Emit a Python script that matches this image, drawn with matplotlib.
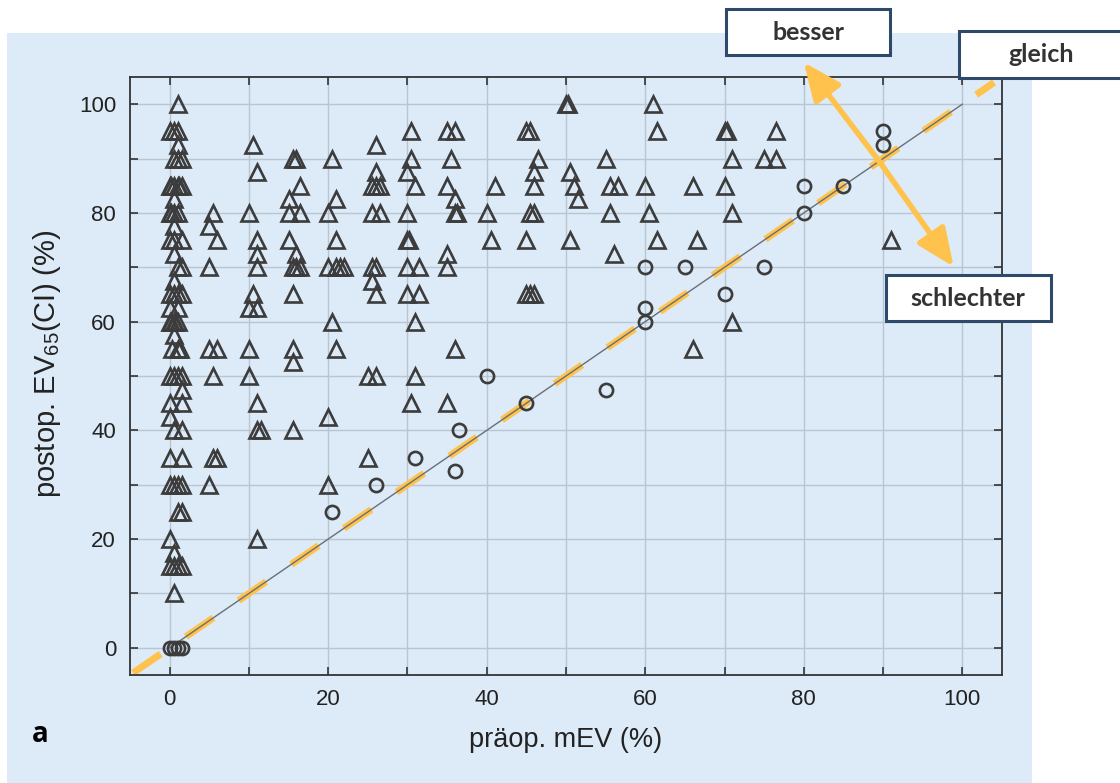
import matplotlib
matplotlib.use("Agg")
import matplotlib.pyplot as plt
from matplotlib.patches import Rectangle

plt.rcParams['font.family'] = ['Liberation Sans', 'DejaVu Sans']
plt.rcParams['mathtext.default'] = 'regular'
plt.rcParams['lines.scale_dashes'] = False

# ---------------- data ----------------
tri_x = [1, 0, 0.5, 1, 1, 0.5, 1, 1.5, 0, 0.5, 1, 1.5, 0.2, 1.2, 0.5, 0, 0.5, 1, 0.2,
         0.5, 0, 1.5, 0.5, 0.5, 1, 1.5, 0.5, 0, 0.5, 1, 1.5, 0, 1, 0, 0.5, 1, 0.2, 0.7,
         0.5, 0.3, 1, 1.3, 0, 0.5, 1, 1.5, 1.5, 0, 1.5, 0, 0.5, 1.5, 0, 1.5, 0, 0.5, 1, 1.5,
         1, 1.5, 0, 0.5, 0, 0.5, 1, 1.5, 0.5,
         5.5, 5, 6, 5, 5, 6, 5.5, 5.5, 6, 5,
         10.5, 11, 10, 11, 11, 11, 10.5, 10, 11, 10, 10, 11, 11, 11.5, 11,
         15.5, 16, 16.5, 15, 15, 16.5, 15, 16, 15.5, 16, 16.5, 15.5, 15.5, 15.5, 15.5,
         20.5, 21, 20, 21, 20, 21, 21.5, 22, 20.5, 21, 20, 20,
         26, 26, 25.5, 26, 26.5, 25.5, 26.5, 25.5, 26, 25.5, 26, 25, 26, 25,
         30.5, 30.5, 30, 31, 30, 30, 30.2, 30, 31.5, 30, 31.5, 31, 31, 30.5,
         35, 36, 35.5, 35, 36, 36, 36.2, 35, 35, 36, 35,
         40, 41, 40.5,
         45, 45.5, 46.5, 46, 46, 45.5, 46, 45, 45, 45.5, 46,
         50, 50.2, 50.5, 51, 51.5, 50.5,
         55, 55.5, 56.5, 55.5, 56,
         61, 61.5, 60, 60.5, 61.5,
         66, 66.5, 66,
         70, 70.3, 71, 70, 71, 71,
         76.5, 75, 76.5,
         91]
tri_y = [100, 95, 95, 95, 92.5, 90, 90, 90, 85, 85, 85, 85, 85, 85, 82.5, 80, 80, 80, 80,
         77.5, 75, 75, 75, 72.5, 70, 70, 67.5, 65, 65, 65, 65, 62.5, 62.5, 60, 60, 60, 60, 60,
         57.5, 55, 55, 55, 50, 50, 50, 50, 47.5, 45, 45, 42.5, 40, 40, 35, 35, 30, 30, 30, 30,
         25, 25, 20, 17.5, 15, 15, 15, 15, 10,
         80, 77.5, 75, 70, 55, 55, 50, 35, 35, 30,
         92.5, 87.5, 80, 75, 72.5, 70, 65, 62.5, 62.5, 55, 50, 45, 40, 40, 20,
         90, 90, 85, 82.5, 80, 80, 75, 72.5, 70, 70, 70, 65, 55, 52.5, 40,
         90, 82.5, 80, 75, 70, 70, 70, 70, 60, 55, 42.5, 30,
         92.5, 87.5, 85, 85, 85, 80, 80, 70, 70, 67.5, 65, 50, 50, 35,
         95, 90, 87.5, 85, 80, 75, 75, 70, 70, 65, 65, 60, 50, 45,
         95, 95, 90, 85, 82.5, 80, 80, 72.5, 70, 55, 45,
         80, 85, 75,
         95, 95, 90, 87.5, 85, 80, 80, 75, 65, 65, 65,
         100, 100, 87.5, 85, 82.5, 75,
         90, 85, 85, 80, 72.5,
         100, 95, 85, 80, 75,
         85, 75, 55,
         95, 95, 90, 85, 80, 60,
         95, 90, 90,
         75]
circ_x = [0, 0.5, 1, 1.5, 20.5, 26, 31, 36, 36.5, 40, 45, 55, 60, 60, 60, 65, 70, 75,
          80, 80, 85, 90, 90]
circ_y = [0, 0, 0, 0, 25, 30, 35, 32.5, 40, 50, 45, 47.5, 60, 62.5, 70, 70, 65, 70,
          80, 85, 85, 92.5, 95]

ident = [0, 100]
ident_ext = [-4.6, 104]

x_ticks = [0, 10, 20, 30, 40, 50, 60, 70, 80, 90, 100]
x_labels = ['0', '', '20', '', '40', '', '60', '', '80', '', '100']
y_ticks = x_ticks
y_labels = x_labels

W, H = 1120, 783
fig = plt.figure(figsize=(W / 100, H / 100), dpi=100)
fig.patch.set_facecolor('white')

bg = '#ddeaf7'
fig.add_artist(Rectangle((7 / W, 0), (1032 - 7) / W, (H - 33) / H,
                         transform=fig.transFigure, facecolor=bg, edgecolor='none', zorder=0))

ax = fig.add_axes([130 / W, 1 - 675 / H, (1002 - 130) / W, (675 - 77) / H])
ax.set_facecolor(bg)
ax.set_xlim(-5, 105)
ax.set_ylim(-5, 105)
ax.set_xticks(x_ticks)
ax.set_xticklabels(x_labels)
ax.set_yticks(y_ticks)
ax.set_yticklabels(y_labels)
ax.grid(True, color='#b9c5d1', linewidth=1.0)
ax.set_axisbelow(True)
ax.tick_params(direction='in', length=6, width=1.2, color='#333333', labelsize=16,
               labelcolor='#222222', top=True, right=True, pad=10)
for s in ax.spines.values():
    s.set_color('#333333')
    s.set_linewidth(1.3)

ax.plot(ident_ext, ident_ext, color='#ffc34d', linewidth=5, dashes=(24, 22),
        solid_capstyle='butt', dash_capstyle='butt', clip_on=False, zorder=2)
ax.plot(ident, ident, color='#6a6f75', linewidth=1.0, zorder=3)

ax.plot(tri_x, tri_y, linestyle='none', marker='^', markersize=11.5, markerfacecolor='none',
        markeredgecolor='#3c3c3c', markeredgewidth=1.9, zorder=4)
ax.plot(circ_x, circ_y, linestyle='none', marker='o', markersize=9.5, markerfacecolor='none',
        markeredgecolor='#3c3c3c', markeredgewidth=1.9, zorder=4)

ax.set_xlabel('präop. mEV (%)', fontsize=19.5, color='#222222', labelpad=12)
ax.set_ylabel('postop. EV$_{65}$(CI) (%)', fontsize=21, color='#222222')
ax.yaxis.set_label_coords(-0.077, 0.52)

orange = '#ffc34d'
for tip in [(80.0, 107.7), (98.9, 70.1)]:
    ax.annotate('', xy=tip, xytext=(89.5, 89.5), annotation_clip=False,
                arrowprops=dict(arrowstyle='-|>,head_length=2.3,head_width=1.0', color=orange,
                                lw=4, shrinkA=0, shrinkB=0, mutation_scale=10), zorder=6)


def box(x0, y0, x1, y1, label, tx):
    fig.add_artist(Rectangle((x0 / W, 1 - y1 / H), (x1 - x0) / W, (y1 - y0) / H,
                             transform=fig.transFigure, facecolor='white',
                             edgecolor='#2e4a6b', linewidth=2.2, zorder=10))
    fig.text(tx / W, 1 - (y0 + y1) / 2 / H, label, ha='center', va='center',
             fontsize=18, fontweight='bold', color='#333333', family=['Lato', 'DejaVu Sans'],
             zorder=11)


box(726, 9, 890, 55, 'besser', 808)
box(959, 31, 1125, 78, 'gleich', 1041)
box(886, 275, 1051, 321, 'schlechter', 968)

fig.text(40 / W, 1 - 735 / H, 'a', fontsize=20, fontweight='bold', color='black',
         family=['Open Sans', 'DejaVu Sans'], ha='center', va='center')

fig.savefig('out.png', dpi=100, facecolor='white')
